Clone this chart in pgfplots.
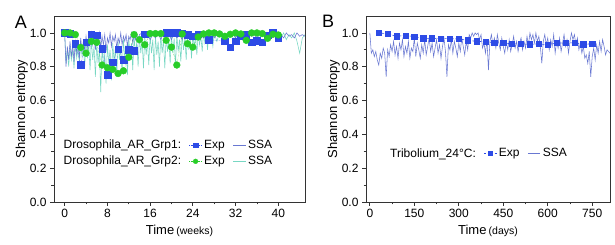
\documentclass[border=0pt]{standalone}
\usepackage{pgfplots}
\pgfplotsset{compat=1.18}
\usepackage{fontspec}
\setmainfont{Liberation Sans}
\definecolor{expblue}{RGB}{45,75,230}
\definecolor{expgreen}{RGB}{40,205,40}
\definecolor{ssablue}{RGB}{105,120,210}
\definecolor{ssateal}{RGB}{120,215,195}
\pgfplotsset{
  shortline/.style={legend image code/.code={%
    \draw[mark repeat=2,mark phase=2,##1] plot coordinates {(0cm,0cm)(0.22cm,0cm)(0.44cm,0cm)};}},
  panel/.style={
    scale only axis, width=251pt, height=186pt,
    ymin=0, ymax=1.1,
    ytick={0,0.2,0.4,0.6,0.8,1.0},
    minor x tick num=1, minor y tick num=1,
    tick pos=left, tick align=outside,
    major tick length=4pt, minor tick length=2.5pt,
    axis line style={line width=0.8pt, black!80},
    every tick/.style={line width=0.8pt, black!80},
    tick label style={font=\fontsize{12}{14}\selectfont},
    /pgf/number format/assume math mode=true,
    yticklabel style={/pgf/number format/.cd, fixed, fixed zerofill, precision=1},
    xticklabel style={/pgf/number format/.cd, fixed, precision=0},
    ylabel={Shannon entropy},
    label style={font=\fontsize{13}{15}\selectfont},
    ylabel style={yshift=-5pt},
    xlabel style={yshift=0pt},
    legend style={draw=none, fill=none, font=\fontsize{12}{14}\selectfont, inner sep=0pt},
    legend cell align=left,
  }
}
\begin{document}
\begin{tikzpicture}
\path[use as bounding box] (-54pt,-43pt) rectangle (561pt,202pt);
\begin{axis}[panel,
  xmin=-2, xmax=45, xtick={0,8,16,24,32,40},
  xlabel={Time\,{\fontsize{10.5}{12}\selectfont(weeks)}},
  legend columns=3,
  legend style={at={(0.03,0.345)}, anchor=north west,
    /tikz/every even column/.append style={column sep=6pt},
    row sep=2pt},
]
% SSA Grp2 (teal)
\addplot[ssateal, line width=0.55pt, forget plot] coordinates {
(0,1.00)(0.25,0.82)(0.5,0.90)(0.75,0.80)(1,0.92)(1.25,0.84)(1.5,0.90)(1.75,0.79)
(2,0.93)(2.25,0.85)(2.5,0.91)(2.75,0.82)(3,0.94)(3.25,0.86)(3.5,0.92)(3.75,0.80)
(4,0.95)(4.25,0.85)(4.5,0.93)(4.75,0.78)(5,0.96)(5.25,0.84)(5.5,0.92)(5.75,0.74)
(6,0.94)(6.25,0.82)(6.5,0.90)(6.75,0.65)(7,0.92)(7.25,0.80)(7.5,0.88)(7.75,0.70)
(8,0.93)(8.25,0.82)(8.5,0.90)(8.75,0.72)(9,0.94)(9.25,0.83)(9.5,0.91)(9.75,0.74)
(10,0.95)(10.25,0.84)(10.5,0.92)(10.75,0.76)(11,0.96)(11.25,0.85)(11.5,0.93)(11.75,0.75)
(12,0.97)(12.25,0.86)(12.5,0.94)(12.75,0.78)(13,0.98)(13.25,0.87)(13.5,0.95)(13.75,0.80)
(14,0.98)(14.25,0.88)(14.5,0.96)(14.75,0.79)(15,0.98)(15.25,0.87)(15.5,0.95)(15.75,0.81)
(16,0.99)(16.25,0.88)(16.5,0.96)(16.75,0.78)(17,0.98)(17.25,0.87)(17.5,0.95)(17.75,0.80)
(18,0.99)(18.25,0.88)(18.5,0.96)(18.75,0.79)(19,0.98)(19.25,0.89)(19.5,0.96)(19.75,0.82)
(20,0.99)(20.25,0.88)(20.5,0.97)(20.75,0.80)(21,0.99)(21.25,0.89)(21.5,0.96)(21.75,0.83)
(22,0.99)(22.25,0.90)(22.5,0.97)(22.75,0.84)(23,0.99)(23.25,0.90)(23.5,0.97)(23.75,0.85)
(24,0.99)(24.25,0.92)(24.5,0.98)(24.75,0.87)(25,1.00)(25.25,0.93)(25.5,0.98)(25.75,0.89)
(26,1.00)(26.25,0.94)(26.5,0.99)(26.75,0.90)(27,1.00)(27.25,0.95)(27.5,0.99)(27.75,0.92)
(28,1.00)(28.5,0.95)(29,1.00)(29.5,0.96)(30,0.99)(30.5,0.95)(31,1.00)(31.5,0.96)
(32,0.99)(32.5,0.97)(33,1.00)(33.5,0.96)(34,0.99)(34.5,0.97)(35,1.00)(35.5,0.96)
(36,0.99)(36.5,0.97)(37,1.00)(37.5,0.97)(38,0.99)(38.5,0.96)(39,1.00)(39.5,0.97)
(40,0.99)(40.5,0.97)(41,1.00)(41.5,0.96)(42,0.99)(42.5,0.97)(43,1.00)(43.5,0.95)
(44,0.88)(44.5,0.97)(45,0.99)
};
% SSA Grp1 (blue)
\addplot[ssablue, line width=0.55pt, forget plot] coordinates {
(0,1.00)(0.25,0.80)(0.5,0.92)(0.75,0.84)(1,0.95)(1.25,0.86)(1.5,0.93)(1.75,0.83)
(2,0.96)(2.25,0.88)(2.5,0.94)(2.75,0.85)(3,0.97)(3.25,0.89)(3.5,0.95)(3.75,0.90)
(4,0.98)(4.25,0.91)(4.5,0.99)(4.75,0.92)(5,1.00)(5.25,0.93)(5.5,0.98)(5.75,0.90)
(6,0.99)(6.25,0.94)(6.5,1.00)(6.75,0.91)(7,0.98)(7.25,0.93)(7.5,0.99)(7.75,0.89)
(8,0.97)(8.25,0.94)(8.5,1.00)(8.75,0.92)(9,0.98)(9.25,0.95)(9.5,0.99)(9.75,0.91)
(10,0.97)(10.25,0.94)(10.5,1.00)(10.75,0.93)(11,0.98)(11.25,0.95)(11.5,0.99)(11.75,0.92)
(12,0.98)(12.25,0.96)(12.5,1.00)(12.75,0.94)(13,0.99)(13.25,0.96)(13.5,1.00)(13.75,0.95)
(14,0.99)(14.5,1.00)(15,0.97)(15.5,1.00)(16,0.96)(16.5,0.99)(17,0.97)(17.5,1.00)
(18,0.96)(18.5,1.00)(19,0.97)(19.5,0.99)(20,0.96)(20.5,1.00)(21,0.97)(21.5,0.99)
(22,0.96)(22.5,1.00)(23,0.97)(23.5,0.99)(24,0.96)(24.5,1.00)(25,0.97)(25.5,0.99)
(26,0.97)(26.5,1.00)(27,0.98)(27.5,1.00)(28,0.97)(28.5,0.99)(29,0.98)(29.5,1.00)
(30,0.97)(30.5,0.99)(31,0.98)(31.5,1.00)(32,0.97)(32.5,1.00)(33,0.98)(33.5,0.99)
(34,0.97)(34.5,1.00)(35,0.98)(35.5,0.99)(36,0.97)(36.5,1.00)(37,0.98)(37.5,1.00)
(38,0.97)(38.5,0.99)(39,0.98)(39.5,1.00)(40,0.98)(40.5,0.99)(41,0.97)(41.5,1.00)
(42,0.98)(42.5,0.99)(43,0.97)(43.5,1.00)(44,0.98)(44.5,0.99)(45,0.98)
};
% Exp Grp1 (blue squares)
\addplot[expblue, densely dotted, line width=0.4pt, mark=square*, mark size=3.3pt,
  mark options={solid}, forget plot] coordinates {
(0,1.00)(1,0.995)(2,0.936)(3,0.813)(4,0.944)(5,0.992)(6,0.986)(7,0.905)(8,0.752)
(9,0.827)(10,0.904)(11,0.840)(12,0.899)(13,0.894)(15,0.992)(19,1.00)(20,1.00)
(21,1.00)(22,0.998)(23,0.99)(24,0.98)(25,0.992)(27,0.96)(30,0.95)(31,0.916)
(32,0.95)(33,0.98)(34,0.99)(35,0.944)(36,0.954)(37,0.946)(38,0.986)(39,1.00)(40,0.97)
};
% Exp Grp2 (green circles)
\addplot[expgreen, densely dotted, line width=0.4pt, mark=*, mark size=3.4pt,
  mark options={solid}, forget plot] coordinates {
(0,1.00)(1,1.00)(2,0.99)(3,0.914)(4,0.88)(5,0.95)(6,0.944)(7,0.81)(8,0.794)
(9,0.784)(10,0.76)(11,0.776)(12,0.856)(13,0.99)(14,0.96)(15,0.93)(16,0.996)
(17,0.996)(18,0.996)(19,0.956)(20,0.916)(21,0.81)(22,0.994)(23,0.936)(24,0.916)
(25,0.976)(26,0.994)(27,1.00)(28,1.00)(29,0.994)(30,0.98)(31,0.992)(32,1.00)
(33,0.994)(34,0.956)(35,1.00)(36,1.00)(37,0.996)(38,0.968)(39,0.992)(40,0.988)
};
\addlegendimage{empty legend}
\addlegendentry{Drosophila\_AR\_Grp1:}
\addlegendimage{shortline, expblue, densely dotted, mark=square*, mark size=2.2pt, mark options={solid}}
\addlegendentry{Exp}
\addlegendimage{shortline, ssablue, line width=0.8pt}
\addlegendentry{SSA}
\addlegendimage{empty legend}
\addlegendentry{Drosophila\_AR\_Grp2:}
\addlegendimage{shortline, expgreen, densely dotted, mark=*, mark size=2.4pt, mark options={solid}}
\addlegendentry{Exp}
\addlegendimage{shortline, ssateal, line width=0.8pt}
\addlegendentry{SSA}
\end{axis}
\node[font=\fontsize{18}{20}\selectfont, anchor=center] at (-33pt,180pt) {A};

\begin{axis}[panel, at={(312pt,0pt)}, width=244pt,
  xmin=-13, xmax=810, xtick={0,150,300,450,600,750},
  xlabel={Time\,{\fontsize{10.5}{12}\selectfont(days)}},
  legend columns=3,
  legend style={at={(0.09,0.30)}, anchor=north west,
    /tikz/every even column/.append style={column sep=6pt}},
]
\addplot[ssablue, line width=0.55pt, forget plot] coordinates {
(0,1.00)(5,0.88)(10,0.90)(15,0.86)(20,0.89)(25,0.84)(30,0.81)(35,0.88)(40,0.85)
(45,0.91)(50,0.88)(55,0.74)(60,0.90)(65,0.86)(70,0.93)(75,0.89)(80,0.95)(85,0.87)
(90,0.92)(95,0.85)(100,0.94)(105,0.90)(110,0.96)(115,0.86)(120,0.92)(125,0.88)
(130,0.95)(135,0.85)(140,0.91)(145,0.89)(150,0.97)(155,0.86)(160,0.94)(165,0.90)
(170,0.85)(175,0.93)(180,0.88)(185,0.96)(190,0.87)(195,0.92)(200,0.97)(205,0.89)
(210,0.94)(215,0.86)(220,0.91)(225,0.96)(230,0.88)(235,0.93)(240,0.85)(245,0.92)
(250,0.97)(255,0.89)(260,0.74)(265,0.93)(270,0.90)(275,0.96)(280,0.88)(285,0.95)
(290,0.91)(295,0.86)(300,0.94)(305,0.89)(310,0.97)(315,0.92)(320,0.87)(325,0.95)
(330,0.90)(335,0.99)(340,0.97)(345,1.00)(350,0.98)(355,1.00)(360,0.99)(365,1.00)
(370,0.96)(375,0.99)(380,0.91)(385,0.94)(390,0.88)(395,0.96)(400,0.78)(405,0.95)
(410,0.99)(415,0.93)(420,0.97)(425,0.91)(430,0.99)(435,0.94)(440,0.90)(445,0.97)
(450,0.92)(455,0.88)(460,0.95)(465,0.90)(470,0.96)(475,0.89)(480,0.93)(485,0.98)
(490,0.91)(495,0.95)(500,0.89)(505,0.94)(510,0.97)(515,0.90)(520,0.95)(525,0.91)
(530,0.98)(535,0.93)(540,1.00)(545,0.96)(550,0.99)(555,0.94)(560,1.00)(565,0.95)
(570,0.98)(575,0.92)(580,0.82)(585,0.95)(590,0.99)(595,0.93)(600,0.97)(605,0.90)
(610,0.96)(615,0.92)(620,0.99)(625,0.88)(630,0.95)(635,0.91)(640,0.97)(645,0.89)
(650,0.94)(655,0.99)(660,0.92)(665,0.96)(670,0.88)(675,0.95)(680,1.00)(685,0.96)
(690,0.99)(695,0.93)(700,0.97)(705,0.90)(710,0.94)(715,0.88)(720,0.92)(725,0.85)
(730,0.87)(735,0.82)(740,0.89)(745,0.74)(750,0.86)(755,0.91)(760,0.84)(765,0.93)
(770,0.88)(775,0.95)(780,0.89)(785,0.96)(790,0.92)(795,0.87)(800,0.90)(810,0.88)
};
\addplot[expblue, dash pattern=on 2pt off 1.5pt, line width=0.6pt, mark=square*, mark size=2.6pt,
  mark options={solid}, forget plot] coordinates {
(30,1.00)(60,0.995)(90,0.98)(120,0.985)(150,0.978)(180,0.968)(210,0.968)(240,0.966)
(270,0.966)(300,0.964)(330,0.956)(360,0.95)(390,0.948)(420,0.942)(450,0.94)(480,0.935)
(510,0.935)(540,0.933)(570,0.935)(600,0.93)(630,0.94)(660,0.94)(690,0.942)(720,0.933)(750,0.935)
};
\addlegendimage{empty legend}
\addlegendentry{Tribolium\_24°C:}
\addlegendimage{shortline, expblue, dash pattern=on 2pt off 1.5pt, mark=square*, mark size=2.2pt, mark options={solid}}
\addlegendentry{Exp}
\addlegendimage{shortline, ssablue, line width=0.8pt}
\addlegendentry{SSA}
\end{axis}
\node[font=\fontsize{18}{20}\selectfont, anchor=center] at (274pt,181pt) {B};
\end{tikzpicture}
\end{document}
